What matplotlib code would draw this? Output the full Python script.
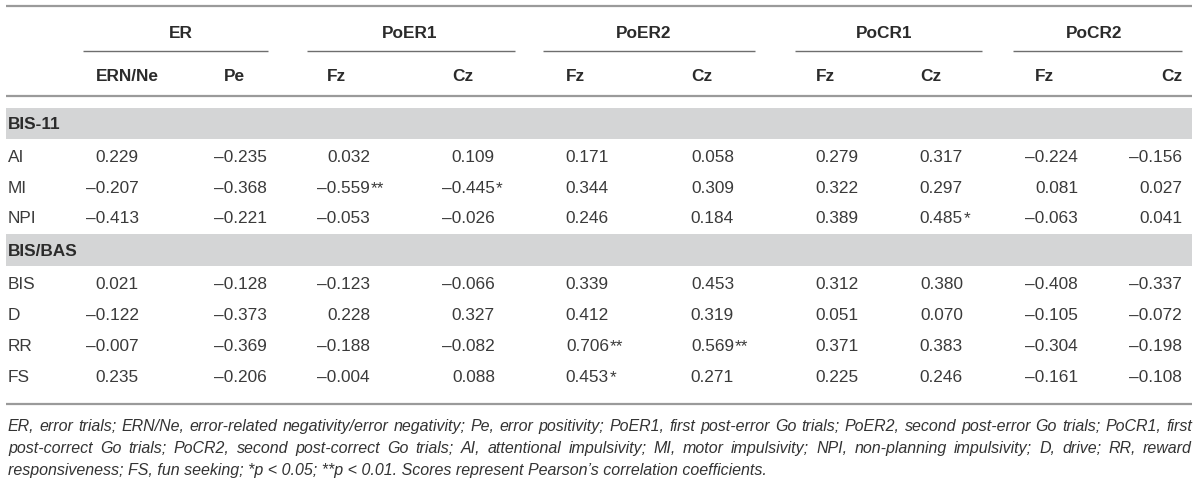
import matplotlib
matplotlib.use('Agg')
import matplotlib.pyplot as plt
from matplotlib import font_manager

# ---------------- data ----------------
groups = ["ER", "PoER1", "PoER2", "PoCR1", "PoCR2"]
subheaders = ["ERN/Ne", "Pe", "Fz", "Cz", "Fz", "Cz", "Fz", "Cz", "Fz", "Cz"]
sections = ["BIS-11", "BIS/BAS"]
bis11_rows = ["AI", "MI", "NPI"]
bisbas_rows = ["BIS", "D", "RR", "FS"]

AI  = [0.229, -0.235, 0.032, 0.109, 0.171, 0.058, 0.279, 0.317, -0.224, -0.156]
MI  = [-0.207, -0.368, -0.559, -0.445, 0.344, 0.309, 0.322, 0.297, 0.081, 0.027]
NPI = [-0.413, -0.221, -0.053, -0.026, 0.246, 0.184, 0.389, 0.485, -0.063, 0.041]
BIS = [0.021, -0.128, -0.123, -0.066, 0.339, 0.453, 0.312, 0.380, -0.408, -0.337]
D   = [-0.122, -0.373, 0.228, 0.327, 0.412, 0.319, 0.051, 0.070, -0.105, -0.072]
RR  = [-0.007, -0.369, -0.188, -0.082, 0.706, 0.569, 0.371, 0.383, -0.304, -0.198]
FS  = [0.235, -0.206, -0.004, 0.088, 0.453, 0.271, 0.225, 0.246, -0.161, -0.108]

AI_sig  = ["", "", "", "", "", "", "", "", "", ""]
MI_sig  = ["", "", "**", "*", "", "", "", "", "", ""]
NPI_sig = ["", "", "", "", "", "", "", "*", "", ""]
BIS_sig = ["", "", "", "", "", "", "", "", "", ""]
D_sig   = ["", "", "", "", "", "", "", "", "", ""]
RR_sig  = ["", "", "", "", "**", "**", "", "", "", ""]
FS_sig  = ["", "", "", "", "*", "", "", "", "", ""]

footnote = [
    "ER, error trials; ERN/Ne, error-related negativity/error negativity; Pe, error positivity; PoER1, first post-error Go trials; PoER2, second post-error Go trials; PoCR1, first",
    "post-correct Go trials; PoCR2, second post-correct Go trials; AI, attentional impulsivity; MI, motor impulsivity; NPI, non-planning impulsivity; D, drive; RR, reward",
    "responsiveness; FS, fun seeking; *p < 0.05; **p < 0.01. Scores represent Pearson\u2019s correlation coefficients.",
]

# ---------------- layout ----------------
W, H = 1200, 482
fig = plt.figure(figsize=(12, 4.82), dpi=100)
ax = fig.add_axes([0, 0, 1, 1])
ax.set_xlim(0, W)
ax.set_ylim(H, 0)
ax.axis('off')
renderer = fig.canvas.get_renderer()

FONT = ['Liberation Sans', 'DejaVu Sans']
installed = {f.name for f in font_manager.fontManager.ttflist}
FN_FONT = ['Liberation Sans Narrow', 'Liberation Sans', 'DejaVu Sans'] if 'Liberation Sans Narrow' in installed else FONT
VAL_SIZE = 12.4
HDR_SIZE = 12.4
TXT = '#2b2b2b'
VAL = '#3a3a3a'
LINE = '#9a9a9a'
BAND = '#d4d5d6'
X0, X1 = 6, 1192

col_right = [139, 267, 370, 495, 609, 734, 859, 963, 1078, 1182]
group_cx = [181, 410, 644, 884, 1094]
group_span = [(83, 268), (307, 515), (543, 755), (795, 982), (1013, 1182)]

def cap(size):
    return size * 100 / 72 * 0.72

def width_of(s, size, weight='normal', style='normal', family=None):
    t = ax.text(0, 0, s, fontsize=size, family=family or FONT, fontweight=weight, fontstyle=style)
    w = t.get_window_extent(renderer).width
    t.remove()
    return w

w_num = width_of("0.000", VAL_SIZE)

# rules
ax.plot([X0, X1], [6, 6], color=LINE, lw=1.6, solid_capstyle='butt')
ax.plot([X0, X1], [96, 96], color=LINE, lw=1.6, solid_capstyle='butt')
ax.plot([X0, X1], [404, 404], color=LINE, lw=1.6, solid_capstyle='butt')

# group headers
for g, cx, (a, b) in zip(groups, group_cx, group_span):
    ax.text(cx, 32 + cap(HDR_SIZE) / 2, g, ha='center', va='baseline', fontsize=HDR_SIZE,
            family=FONT, fontweight='bold', color=TXT)
    ax.plot([a, b], [51, 51], color='#6e6e6e', lw=1.0, solid_capstyle='butt')

# subheaders
for i, (s, r) in enumerate(zip(subheaders, col_right)):
    if i == len(subheaders) - 1:
        ax.text(r, 75 + cap(HDR_SIZE) / 2, s, ha='right', va='baseline', fontsize=HDR_SIZE,
                family=FONT, fontweight='bold', color=TXT)
    else:
        ax.text(r - w_num, 75 + cap(HDR_SIZE) / 2, s, ha='left', va='baseline', fontsize=HDR_SIZE,
                family=FONT, fontweight='bold', color=TXT)

def fmt(v):
    return f"{v:.3f}".replace('-', '\u2013')

def draw_row(label, vals, sigs, yc):
    yb = yc + cap(VAL_SIZE) / 2
    ax.text(8, yb, label, ha='left', va='baseline', fontsize=VAL_SIZE, family=FONT, color=VAL)
    for v, s, r in zip(vals, sigs, col_right):
        ax.text(r, yb, fmt(v), ha='right', va='baseline', fontsize=VAL_SIZE, family=FONT, color=VAL)
        if s:
            ax.text(r + 0.5, yb, s, ha='left', va='baseline', fontsize=VAL_SIZE, family=FONT, color=VAL)

def draw_band(label, y0, y1):
    ax.fill_between([X0, X1], [y0, y0], [y1, y1], color=BAND, lw=0)
    yc = (y0 + y1) / 2
    ax.text(8, yc + cap(HDR_SIZE) / 2, label, ha='left', va='baseline', fontsize=HDR_SIZE,
            family=FONT, fontweight='bold', color=TXT)

draw_band(sections[0], 107.5, 139)
for lab, vals, sigs, yc in zip(bis11_rows, [AI, MI, NPI], [AI_sig, MI_sig, NPI_sig], [156, 187, 217]):
    draw_row(lab, vals, sigs, yc)

draw_band(sections[1], 234, 265.5)
for lab, vals, sigs, yc in zip(bisbas_rows, [BIS, D, RR, FS], [BIS_sig, D_sig, RR_sig, FS_sig],
                               [283, 314, 345, 376]):
    draw_row(lab, vals, sigs, yc)

# footnote: fit first line to table width, justify first two lines
FN_COLOR = '#333333'
fn_w = width_of(footnote[0], 10.0, style='italic', family=FN_FONT)
fn_size = min(11.5, 10.0 * (X1 - 8) / fn_w)
baselines = [431, 453, 475]
for i, (line, yb) in enumerate(zip(footnote, baselines)):
    if i < 2:
        words = line.split(' ')
        ws = [width_of(w, fn_size, style='italic', family=FN_FONT) for w in words]
        gap = (X1 - 8 - sum(ws)) / (len(words) - 1)
        x = 8
        for w, wd in zip(words, ws):
            ax.text(x, yb, w, ha='left', va='baseline', fontsize=fn_size, family=FN_FONT,
                    fontstyle='italic', color=FN_COLOR)
            x += wd + gap
    else:
        ax.text(8, yb, line, ha='left', va='baseline', fontsize=fn_size, family=FN_FONT,
                fontstyle='italic', color=FN_COLOR)

fig.savefig('out.png', dpi=100, facecolor='white')
